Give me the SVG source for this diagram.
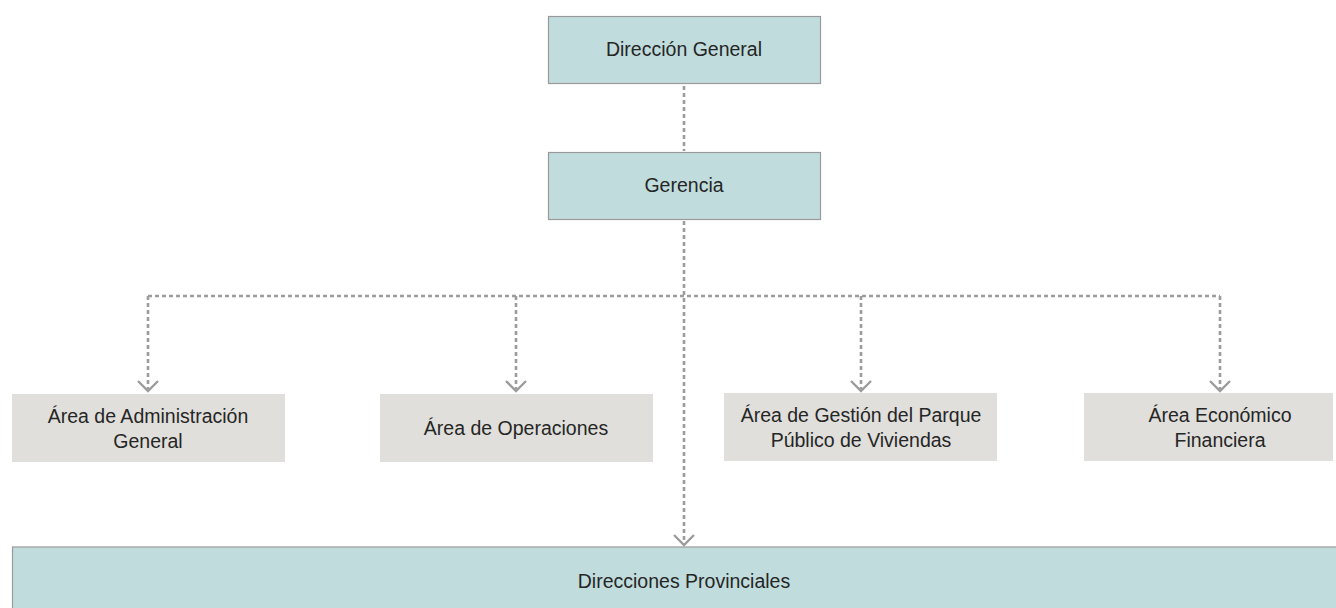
<svg xmlns="http://www.w3.org/2000/svg" width="1336" height="608" viewBox="0 0 1336 608">
<style>
.blue{fill:#c0dcdd;stroke:#9a9a9a;stroke-width:1.2}
.grey{fill:#e0dfdb}
.t{font-family:"Liberation Sans",Arial,sans-serif;font-size:19.5px;fill:#262626;text-anchor:middle}
.c{fill:none;stroke:#9c9c9c;stroke-width:2.6;stroke-dasharray:4 3}
.ah{fill:none;stroke:#9c9c9c;stroke-width:2.4}
</style>
<rect width="1336" height="608" fill="#fff"/>
<g id="connectors">
<path class="c" d="M684 86V151"/>
<path class="c" d="M684 221V543"/>
<path class="c" d="M148 296H1220"/>
<path class="c" d="M148 296V389"/>
<path class="c" d="M516 296V389"/>
<path class="c" d="M861 296V389"/>
<path class="c" d="M1220 296V389"/>
<path class="ah" d="M138 381L148 391L158 381"/>
<path class="ah" d="M506 381L516 391L526 381"/>
<path class="ah" d="M851 381L861 391L871 381"/>
<path class="ah" d="M1210 381L1220 391L1230 381"/>
<path class="ah" d="M674 535L684 545L694 535"/>
</g>
<g id="direccion-general">
<rect class="blue" x="548.5" y="16.5" width="272" height="67"/>
<text class="t" x="684" y="56">Dirección General</text>
</g>
<g id="gerencia">
<rect class="blue" x="548.5" y="152.5" width="272" height="67"/>
<text class="t" x="684" y="192">Gerencia</text>
</g>
<g id="area-admin">
<rect class="grey" x="12" y="394" width="273" height="68"/>
<text class="t" x="148" y="423">Área de Administración</text>
<text class="t" x="148" y="448">General</text>
</g>
<g id="area-operaciones">
<rect class="grey" x="380" y="394" width="273" height="68"/>
<text class="t" x="516" y="435">Área de Operaciones</text>
</g>
<g id="area-gestion">
<rect class="grey" x="724" y="393" width="273" height="68"/>
<text class="t" x="861" y="422">Área de Gestión del Parque</text>
<text class="t" x="861" y="447">Público de Viviendas</text>
</g>
<g id="area-economico">
<rect class="grey" x="1084" y="393" width="249" height="68"/>
<text class="t" x="1220" y="422">Área Económico</text>
<text class="t" x="1220" y="447">Financiera</text>
</g>
<g id="direcciones-provinciales">
<rect class="blue" x="12.5" y="547" width="1340" height="80"/>
<text class="t" x="684" y="588">Direcciones Provinciales</text>
</g>
</svg>
